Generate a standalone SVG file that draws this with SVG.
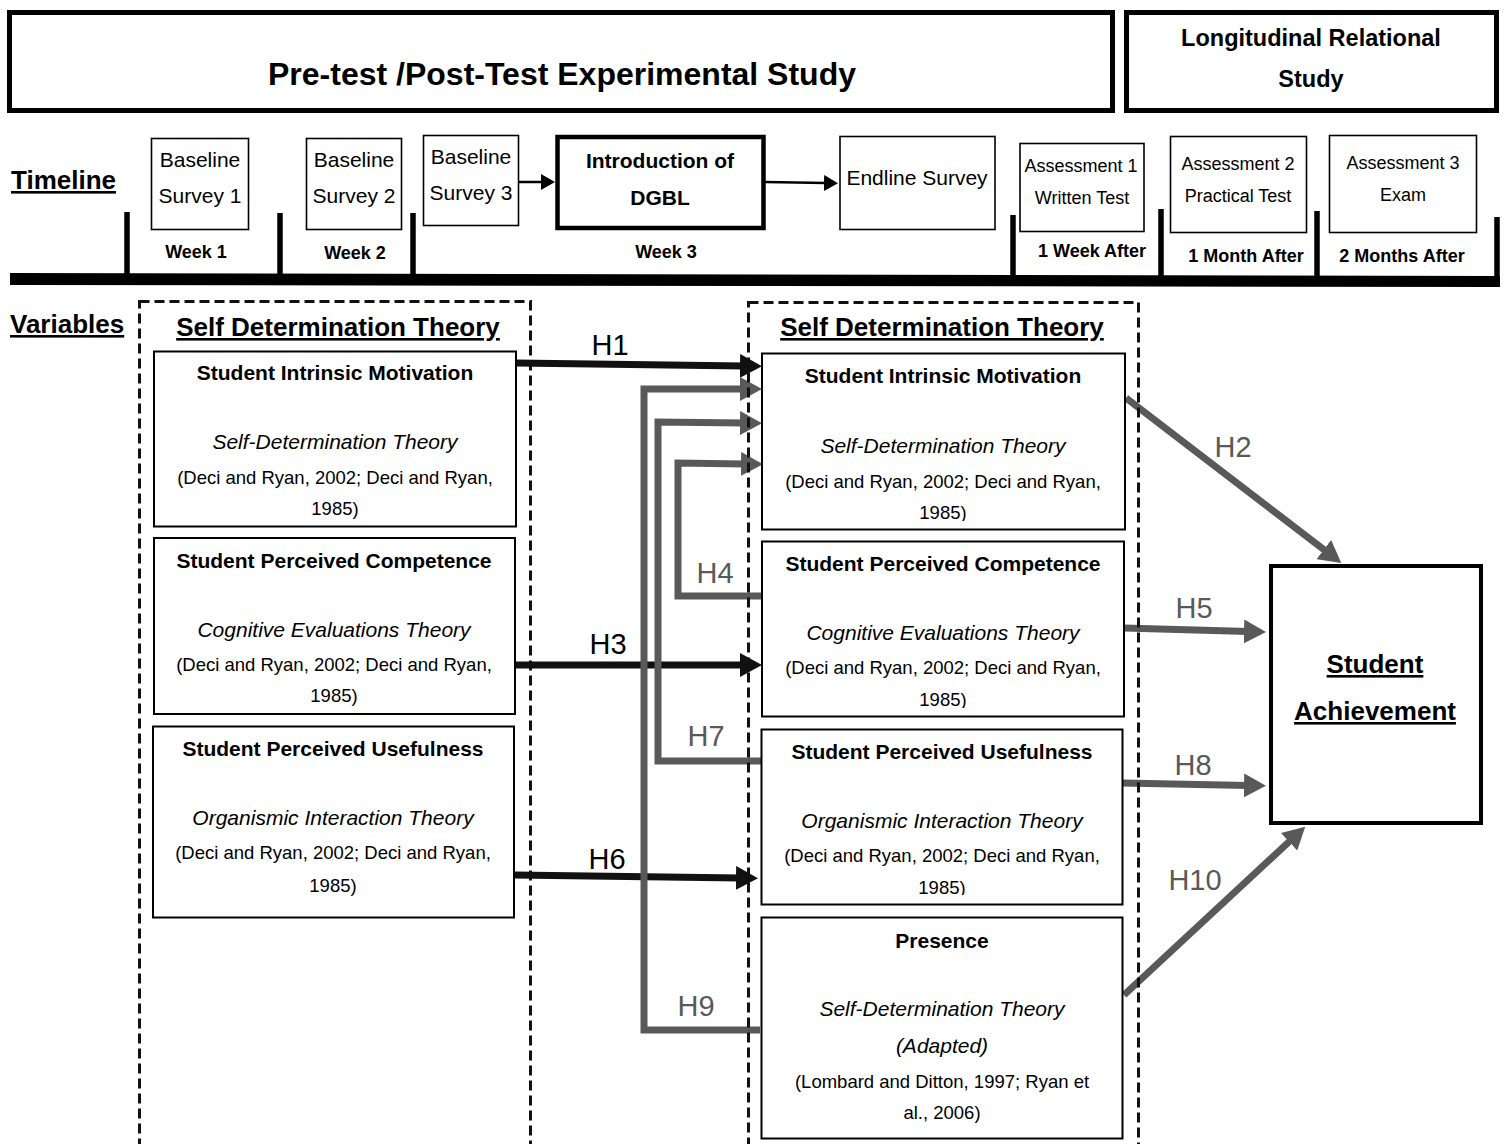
<svg xmlns="http://www.w3.org/2000/svg" width="1506" height="1144" viewBox="0 0 1506 1144">
  <style>
    text { font-family: "Liberation Sans", Arial, sans-serif; fill: #000; }
    .c { text-anchor: middle; }
    .frame { fill: #fff; stroke: #000; stroke-width: 5; }
    .tbox { fill: #fff; stroke: #000; stroke-width: 1.6; }
    .var { fill: #fff; stroke: #000; stroke-width: 2; }
    .group { fill: none; stroke: #111; stroke-width: 3; stroke-dasharray: 10 5; }
    .title { font-size: 32px; font-weight: bold; }
    .title2 { font-size: 23.5px; font-weight: bold; }
    .sec { font-size: 26px; font-weight: bold; text-decoration: underline; }
    .tl { font-size: 21px; }
    .tlb { font-size: 21px; font-weight: bold; }
    .as { font-size: 18px; }
    .wk { font-size: 18px; font-weight: bold; }
    .hd { font-size: 21px; font-weight: bold; }
    .th { font-size: 21px; font-style: italic; }
    .ct { font-size: 18.5px; }
    .hk { font-size: 29px; fill: #000; }
    .hg { font-size: 29px; fill: #595959; }
    .blk { fill: none; stroke: #111; stroke-width: 7; }
    .gry { fill: none; stroke: #595959; stroke-width: 7; stroke-linejoin: miter; }
    .small { fill: none; stroke: #000; stroke-width: 2.5; }
  </style>
  <defs>
    <marker id="headBlack" markerUnits="userSpaceOnUse" markerWidth="23" markerHeight="24" refX="4" refY="12" orient="auto">
      <path d="M0,0 L22,12 L0,24 z" fill="#111"/>
    </marker>
    <marker id="headGray" markerUnits="userSpaceOnUse" markerWidth="23" markerHeight="24" refX="4" refY="12" orient="auto">
      <path d="M0,0 L22,12 L0,24 z" fill="#595959"/>
    </marker>
    <marker id="headSmall" markerUnits="userSpaceOnUse" markerWidth="15" markerHeight="16" refX="2" refY="8" orient="auto">
      <path d="M0,0 L14,8 L0,16 z" fill="#000"/>
    </marker>
    <clipPath id="clipR1"><rect x="762" y="353" width="363" height="168"/></clipPath>
    <clipPath id="clipR2"><rect x="762" y="541" width="362" height="167"/></clipPath>
    <clipPath id="clipR3"><rect x="761" y="729" width="362" height="166"/></clipPath>
  </defs>

  <!-- study headers -->
  <g id="study-experimental">
    <rect class="frame" x="9.5" y="12.5" width="1103" height="98"/>
    <text class="title c" x="562" y="85">Pre-test /Post-Test Experimental Study</text>
  </g>
  <g id="study-longitudinal">
    <rect class="frame" x="1126.5" y="12.5" width="370" height="98"/>
    <text class="title2 c" x="1311" y="46">Longitudinal Relational</text>
    <text class="title2 c" x="1311" y="87">Study</text>
  </g>

  <!-- timeline axis -->
  <g id="timeline-axis">
    <text class="sec" x="11" y="189">Timeline</text>
    <path d="M10,273 L1500,276 L1500,287 L10,285 z" fill="#000"/>
    <g stroke="#000" stroke-width="5.5">
      <line x1="127" y1="212" x2="127" y2="278"/>
      <line x1="280" y1="213" x2="280" y2="278"/>
      <line x1="413" y1="213" x2="413" y2="278"/>
      <line x1="1013" y1="215" x2="1013" y2="280"/>
      <line x1="1161" y1="209" x2="1161" y2="280"/>
      <line x1="1317" y1="211" x2="1317" y2="280"/>
      <line x1="1497" y1="217" x2="1497" y2="280"/>
    </g>
    <text class="wk c" x="196" y="258">Week 1</text>
    <text class="wk c" x="355" y="259">Week 2</text>
    <text class="wk c" x="666" y="258">Week 3</text>
    <text class="wk c" x="1092" y="257">1 Week After</text>
    <text class="wk c" x="1246" y="262">1 Month After</text>
    <text class="wk c" x="1402" y="262">2 Months After</text>
  </g>

  <!-- timeline events -->
  <g id="baseline-1">
    <rect class="tbox" x="151.5" y="138.5" width="97" height="91"/>
    <text class="tl c" x="200" y="167">Baseline</text>
    <text class="tl c" x="200" y="203">Survey 1</text>
  </g>
  <g id="baseline-2">
    <rect class="tbox" x="306.5" y="138.5" width="95" height="91"/>
    <text class="tl c" x="354" y="167">Baseline</text>
    <text class="tl c" x="354" y="203">Survey 2</text>
  </g>
  <g id="baseline-3">
    <rect class="tbox" x="423.5" y="135.5" width="95" height="90"/>
    <text class="tl c" x="471" y="164">Baseline</text>
    <text class="tl c" x="471" y="200">Survey 3</text>
  </g>
  <g id="dgbl">
    <rect x="557.5" y="137" width="206" height="91" fill="#fff" stroke="#000" stroke-width="4.5"/>
    <text class="tlb c" x="660" y="168">Introduction of</text>
    <text class="tlb c" x="660" y="205">DGBL</text>
  </g>
  <g id="endline">
    <rect class="tbox" x="840" y="136.5" width="155" height="93"/>
    <text class="tl c" x="917" y="185">Endline Survey</text>
  </g>
  <g id="assessment-1">
    <rect class="tbox" x="1020" y="143.5" width="124" height="88"/>
    <text class="as c" x="1081" y="172">Assessment 1</text>
    <text class="as c" x="1082" y="204">Written Test</text>
  </g>
  <g id="assessment-2">
    <rect class="tbox" x="1170.5" y="136.5" width="136" height="96"/>
    <text class="as c" x="1238" y="170">Assessment 2</text>
    <text class="as c" x="1238" y="202">Practical Test</text>
  </g>
  <g id="assessment-3">
    <rect class="tbox" x="1329.5" y="135.5" width="147" height="97"/>
    <text class="as c" x="1403" y="169">Assessment 3</text>
    <text class="as c" x="1403" y="201">Exam</text>
  </g>

  <text class="sec" x="10" y="333">Variables</text>

  <!-- connectors -->
  <g id="connectors">
    <line class="small" x1="519" y1="182" x2="543" y2="182" marker-end="url(#headSmall)"/>
    <line class="small" x1="765" y1="182" x2="826" y2="183" marker-end="url(#headSmall)"/>

    <line class="blk" x1="516" y1="363" x2="744" y2="366" marker-end="url(#headBlack)"/>
    <line class="blk" x1="515" y1="665" x2="744" y2="665" marker-end="url(#headBlack)"/>
    <line class="blk" x1="514" y1="875" x2="740" y2="878" marker-end="url(#headBlack)"/>

    <polyline class="gry" points="760,1030 644,1030 644,389 744,389" marker-end="url(#headGray)"/>
    <polyline class="gry" points="762,761 658,761 658,422 744,423" marker-end="url(#headGray)"/>
    <polyline class="gry" points="762,596 678,596 678,463 745,464" marker-end="url(#headGray)"/>

    <line class="gry" x1="1126" y1="398" x2="1327" y2="552" marker-end="url(#headGray)"/>
    <line class="gry" x1="1124" y1="628" x2="1248" y2="631.5" marker-end="url(#headGray)"/>
    <line class="gry" x1="1122" y1="783" x2="1248" y2="785.5" marker-end="url(#headGray)"/>
    <line class="gry" x1="1124" y1="995" x2="1292" y2="839" marker-end="url(#headGray)"/>

    <text class="hk c" x="610" y="355">H1</text>
    <text class="hk c" x="608" y="654">H3</text>
    <text class="hk c" x="607" y="869">H6</text>
    <text class="hg c" x="715" y="583">H4</text>
    <text class="hg c" x="706" y="746">H7</text>
    <text class="hg c" x="696" y="1016">H9</text>
    <text class="hg c" x="1233" y="457">H2</text>
    <text class="hg c" x="1194" y="618">H5</text>
    <text class="hg c" x="1193" y="775">H8</text>
    <text class="hg c" x="1195" y="890">H10</text>
  </g>

  <!-- construct groups -->
  <g id="group-pre">
    <rect class="group" x="139.5" y="301.5" width="391" height="880"/>
    <text class="sec c" x="338" y="336">Self Determination Theory</text>
  </g>
  <g id="group-post">
    <rect class="group" x="748.5" y="302.5" width="390" height="880"/>
    <text class="sec c" x="942" y="336">Self Determination Theory</text>
  </g>

  <!-- pre-test variables -->
  <g id="pre-motivation">
    <rect class="var" x="154" y="351.5" width="362" height="175"/>
    <text class="hd c" x="335" y="380">Student Intrinsic Motivation</text>
    <text class="th c" x="335" y="449">Self-Determination Theory</text>
    <text class="ct c" x="335" y="484">(Deci and Ryan, 2002; Deci and Ryan,</text>
    <text class="ct c" x="335" y="515">1985)</text>
  </g>
  <g id="pre-competence">
    <rect class="var" x="154" y="538" width="361" height="176"/>
    <text class="hd c" x="334" y="568">Student Perceived Competence</text>
    <text class="th c" x="334" y="637">Cognitive Evaluations Theory</text>
    <text class="ct c" x="334" y="671">(Deci and Ryan, 2002; Deci and Ryan,</text>
    <text class="ct c" x="334" y="702">1985)</text>
  </g>
  <g id="pre-usefulness">
    <rect class="var" x="153" y="726.5" width="361" height="191"/>
    <text class="hd c" x="333" y="756">Student Perceived Usefulness</text>
    <text class="th c" x="333" y="825">Organismic Interaction Theory</text>
    <text class="ct c" x="333" y="859">(Deci and Ryan, 2002; Deci and Ryan,</text>
    <text class="ct c" x="333" y="892">1985)</text>
  </g>

  <!-- post-test variables -->
  <g id="post-motivation">
    <rect class="var" x="762" y="353.5" width="363" height="176"/>
    <g clip-path="url(#clipR1)">
      <text class="hd c" x="943" y="383">Student Intrinsic Motivation</text>
      <text class="th c" x="943" y="453">Self-Determination Theory</text>
      <text class="ct c" x="943" y="488">(Deci and Ryan, 2002; Deci and Ryan,</text>
      <text class="ct c" x="943" y="519">1985)</text>
    </g>
  </g>
  <g id="post-competence">
    <rect class="var" x="762" y="541.5" width="362" height="175"/>
    <g clip-path="url(#clipR2)">
      <text class="hd c" x="943" y="571">Student Perceived Competence</text>
      <text class="th c" x="943" y="640">Cognitive Evaluations Theory</text>
      <text class="ct c" x="943" y="674">(Deci and Ryan, 2002; Deci and Ryan,</text>
      <text class="ct c" x="943" y="706">1985)</text>
    </g>
  </g>
  <g id="post-usefulness">
    <rect class="var" x="761.5" y="729.5" width="361" height="175"/>
    <g clip-path="url(#clipR3)">
      <text class="hd c" x="942" y="759">Student Perceived Usefulness</text>
      <text class="th c" x="942" y="828">Organismic Interaction Theory</text>
      <text class="ct c" x="942" y="862">(Deci and Ryan, 2002; Deci and Ryan,</text>
      <text class="ct c" x="942" y="894">1985)</text>
    </g>
  </g>
  <g id="presence">
    <rect class="var" x="761.5" y="917.5" width="361" height="221"/>
    <text class="hd c" x="942" y="948">Presence</text>
    <text class="th c" x="942" y="1016">Self-Determination Theory</text>
    <text class="th c" x="942" y="1053">(Adapted)</text>
    <text class="ct c" x="942" y="1088">(Lombard and Ditton, 1997; Ryan et</text>
    <text class="ct c" x="942" y="1119">al., 2006)</text>
  </g>

  <!-- outcome -->
  <g id="achievement">
    <rect x="1271" y="566" width="210" height="257" fill="#fff" stroke="#000" stroke-width="4"/>
    <text class="sec c" x="1375" y="673">Student</text>
    <text class="sec c" x="1375" y="720">Achievement</text>
  </g>
</svg>
